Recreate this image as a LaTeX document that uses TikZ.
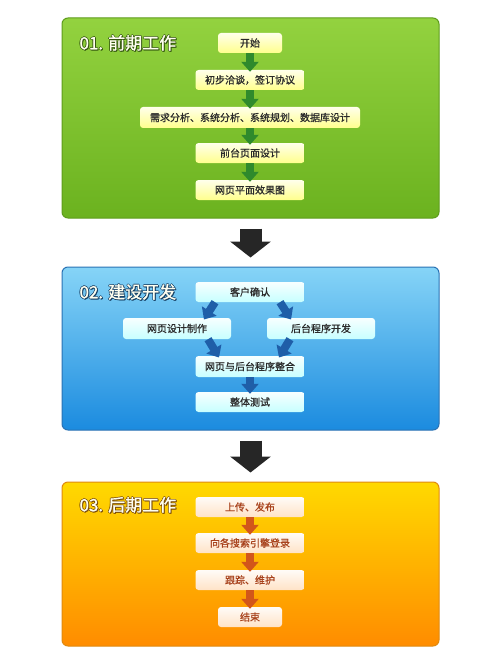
\documentclass[tikz,border=0pt]{standalone}
\usepackage{fontspec}
\setmainfont{Noto Sans CJK SC}
\newfontfamily\boxfont{Noto Sans CJK SC}[FakeBold=0.9]
\newfontfamily\ttlfont{Noto Sans CJK SC}[FakeBold=1.2]
\usetikzlibrary{arrows.meta}
\definecolor{gtop}{HTML}{93D23F}
\definecolor{gbot}{HTML}{6BB21F}
\definecolor{gline}{HTML}{5E9C1C}
\definecolor{btop}{HTML}{86D4F7}
\definecolor{bbot}{HTML}{1B8BDF}
\definecolor{bline}{HTML}{2A72B4}
\definecolor{otop}{HTML}{FFD900}
\definecolor{obot}{HTML}{FF8C00}
\definecolor{oline}{HTML}{E08A10}
\definecolor{garrowc}{HTML}{2F8A2C}
\definecolor{barrowc}{HTML}{1F5EA8}
\definecolor{oarrowc}{HTML}{D2561A}
\definecolor{boxtext}{HTML}{2A2A2A}
\definecolor{otext}{HTML}{A8421C}
\definecolor{ttlfill}{HTML}{FFFFF0}
% white title text with a dark rim
\newcommand\ttltext[2]{%
\rlap{\textcolor{#1}{\kern1pt\raisebox{-1pt}{#2}}}%
\rlap{\textcolor{#1}{\kern-0.7pt#2}}%
\rlap{\textcolor{#1}{\kern0.7pt#2}}%
\rlap{\textcolor{#1}{\raisebox{0.7pt}{#2}}}%
\rlap{\textcolor{#1}{\raisebox{-0.7pt}{#2}}}%
\textcolor{ttlfill}{#2}}
\begin{document}
\begin{tikzpicture}[x=1pt,y=-1pt,
  panel/.style={draw=#1,line width=1pt,rounded corners=6pt,minimum width=377pt,inner sep=0pt},
  title/.style={anchor=west,font=\fontsize{17}{19}\selectfont\ttlfont},
  box/.style={rounded corners=3pt,minimum width=109pt,minimum height=20pt,inner sep=0pt,
    font=\fontsize{10}{12}\selectfont\boxfont,text=boxtext},
  gbox/.style={box,top color=yellow!8,bottom color=yellow!45!white},
  bbox/.style={box,top color=cyan!3,bottom color=cyan!22!white},
  obox/.style={box,top color=orange!3,bottom color=orange!22!white,text=otext},
  bigarrow/.style={draw=black!85,line width=22pt,-{Triangle[length=16pt,width=40pt]},
    shorten <=10pt,shorten >=9pt},
  flow/.style={draw=#1,line width=8pt,-{Triangle[length=10pt,width=17pt]},shorten >=-2pt}
]
\useasboundingbox (0,0) rectangle (500,666);
\fill[white] (0,0) rectangle (500,666);

% panels
\node[panel=gline,top color=gtop,bottom color=gbot,minimum height=200pt] (pone) at (250.5,118) {};
\node[panel=bline,top color=btop,bottom color=bbot,minimum height=163pt] (ptwo) at (250.5,348.5) {};
\node[panel=oline,top color=otop,bottom color=obot,minimum height=164pt] (pthree) at (250.5,564) {};

\draw[bigarrow] (pone.south) -- (ptwo.north);
\draw[bigarrow] (ptwo.south) -- (pthree.north);

\node[title] (tone) at (76,43) {\ttltext{gline!55!black}{01. 前期工作}};
\node[title] (ttwo) at (76,292) {\ttltext{bline!55!black}{02. 建设开发}};
\node[title] (tthree) at (76,505) {\ttltext{oline!55!black}{03. 后期工作}};

% 01
\node[gbox,minimum width=64pt] (start) at (250,43) {开始};
\node[gbox] (talk) at (250,80) {初步洽谈，签订协议};
\node[gbox,minimum width=220pt,minimum height=21pt] (need) at (250,117.5) {需求分析、系统分析、系统规划、数据库设计};
\node[gbox] (front) at (250,153) {前台页面设计};
\node[gbox] (draft) at (250,190) {网页平面效果图};
\foreach \a/\b in {start/talk,talk/need,need/front,front/draft}
  \draw[flow=garrowc] (\a.south) -- (\b.north);

% 02
\node[bbox] (confirm) at (250,292) {客户确认};
\node[bbox,minimum width=108pt,minimum height=21pt] (web) at (177,328.5) {网页设计制作};
\node[bbox,minimum width=108pt,minimum height=21pt] (back) at (321,328.5) {后台程序开发};
\node[bbox,minimum height=21pt] (merge) at (250,366.5) {网页与后台程序整合};
\node[bbox] (test) at (250,402) {整体测试};
\draw[flow=barrowc] ([xshift=-35pt]confirm.south) -- ([xshift=28pt]web.north);
\draw[flow=barrowc] ([xshift=30pt]confirm.south) -- ([xshift=-31pt]back.north);
\draw[flow=barrowc] ([xshift=31pt]web.south) -- ([xshift=-32pt]merge.north);
\draw[flow=barrowc] ([xshift=-31pt]back.south) -- ([xshift=30pt]merge.north);
\draw[flow=barrowc] (merge.south) -- (test.north);

% 03
\node[obox] (upload) at (250,507) {上传、发布};
\node[obox] (search) at (250,543) {向各搜索引擎登录};
\node[obox] (track) at (250,580) {跟踪、维护};
\node[obox,minimum width=64pt] (finish) at (250,617) {结束};
\foreach \a/\b in {upload/search,search/track,track/finish}
  \draw[flow=oarrowc] (\a.south) -- (\b.north);
\end{tikzpicture}
\end{document}
